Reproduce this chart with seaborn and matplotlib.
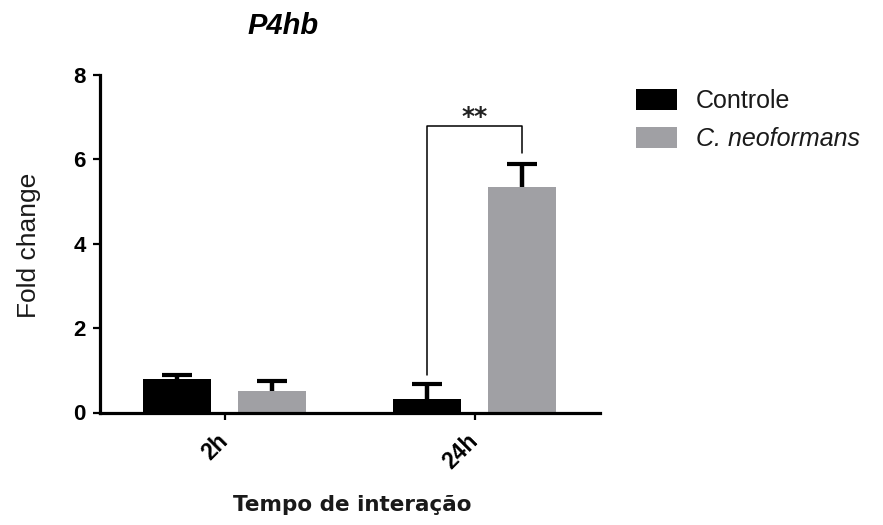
import matplotlib
matplotlib.use("Agg")
import matplotlib.pyplot as plt
import seaborn as sns
import pandas as pd
import numpy as np

times = ["2h", "24h"]
groups = ["Controle", "C. neoformans"]
controle_mean = [0.80, 0.33]
controle_err = [0.09, 0.35]
cneo_mean = [0.50, 5.34]
cneo_err = [0.24, 0.55]
yticks = [0, 2, 4, 6, 8]
bracket_y = 6.78
colors = {"Controle": "#000000", "C. neoformans": "#a0a0a4"}

df = pd.DataFrame({
    "time": times * 2,
    "group": [groups[0]] * 2 + [groups[1]] * 2,
    "value": controle_mean + cneo_mean,
    "err": controle_err + cneo_err,
})

sns.set_style("ticks")
plt.rcParams["font.family"] = ["Liberation Sans", "DejaVu Sans"]
plt.rcParams["text.color"] = "black"
plt.rcParams["axes.edgecolor"] = "black"
plt.rcParams["xtick.color"] = "black"
plt.rcParams["ytick.color"] = "black"

fig = plt.figure(figsize=(8.83, 5.25), dpi=100)
ax = fig.add_axes([99.5 / 883, 1 - 412.5 / 525, 500 / 883, 337.5 / 525])

sns.barplot(data=df, x="time", y="value", hue="group", order=times,
            hue_order=groups, palette=colors, width=0.76, gap=0.29,
            errorbar=None, ax=ax, linewidth=0, saturation=1)

centers = {}
for cont, g in zip(ax.containers, groups):
    sub = df[df.group == g].set_index("time").loc[times]
    xs = [p.get_x() + p.get_width() / 2 for p in cont]
    centers[g] = xs
    _, caps, _ = ax.errorbar(xs, sub["value"],
                             yerr=[np.zeros(len(xs)), sub["err"]],
                             fmt="none", ecolor="black", elinewidth=3.2,
                             capsize=11, capthick=3, zorder=5)
    caps[0].set_visible(False)

# significance bracket
xl = centers["Controle"][1]
xr = centers["C. neoformans"][1]
yl = controle_mean[1] + controle_err[1] + 0.2
yr = cneo_mean[1] + cneo_err[1] + 0.25
ax.plot([xl, xl, xr, xr], [yl, bracket_y, bracket_y, yr], color="black", lw=1.1)
ax.text((xl + xr) / 2, bracket_y + 0.05, "**", ha="center", va="baseline",
        fontsize=18, fontweight="bold", family="DejaVu Sans", color="#222222")

ax.set_xlim(-0.5, 1.5)
ax.set_ylim(0, 8)
ax.set_yticks(yticks)
ax.set_yticklabels([str(t) for t in yticks], fontsize=16, fontweight="bold")
ax.set_xticks(range(len(times)))
ax.set_xticklabels(times, rotation=45, fontsize=16.5, fontweight="bold")
for lab in ax.get_xticklabels():
    lab.set_ha("right")
    lab.set_va("center")
    lab.set_rotation_mode("anchor")
ax.tick_params(axis="both", width=1.6, length=5, direction="out")
ax.tick_params(axis="y", pad=5)
ax.tick_params(axis="x", pad=13)
for s in ["left", "bottom"]:
    ax.spines[s].set_linewidth(2.3)
sns.despine(ax=ax)
ax.set_xlabel("")
ax.set_ylabel("")

fig.text(29 / 883, 1 - 245 / 525, "Fold change", rotation=90, ha="center",
         va="center", fontsize=19, color="#1a1a1a")
fig.text(352 / 883, 1 - 505 / 525, "Tempo de interação", ha="center",
         va="center", fontsize=15.5, fontweight="bold", family="DejaVu Sans",
         color="#1a1a1a")
fig.text(283 / 883, 1 - 26 / 525, "P4hb", ha="center", va="center",
         fontsize=21, fontweight="bold", style="italic")

handles, labels = ax.get_legend_handles_labels()
ax.get_legend().remove()
leg = fig.legend(handles, labels, loc="upper left",
                 bbox_to_anchor=(636 / 883, 1 - 89 / 525), frameon=False,
                 fontsize=18, handlelength=1.64, handleheight=0.92,
                 handletextpad=0.76, labelspacing=0.54, borderpad=0,
                 borderaxespad=0)
for t in leg.get_texts():
    t.set_color("#1a1a1a")
    if t.get_text().startswith("C."):
        t.set_style("italic")

fig.savefig("out.png", dpi=100)
